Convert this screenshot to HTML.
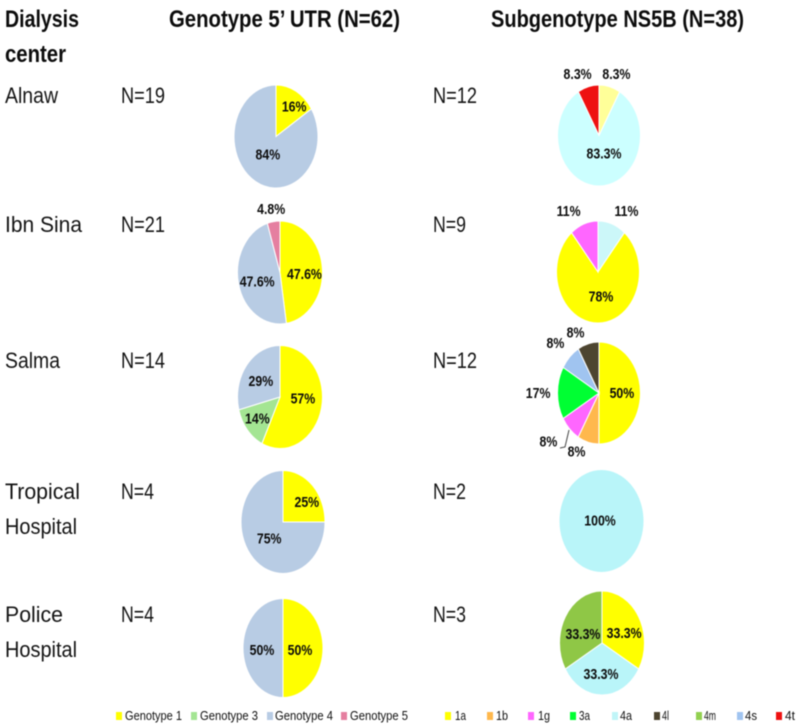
<!DOCTYPE html>
<html lang="en">
<head>
<meta charset="utf-8">
<title>HCV genotype by dialysis center</title>
<style>
html,body{margin:0;padding:0;background:#fff;width:797px;height:725px;overflow:hidden}
svg{display:block;filter:blur(.5px)}
text{font-family:"Liberation Sans",sans-serif;fill:#0c0c0c}
.head{font-size:24px;font-weight:bold}
.row{font-size:22px;fill:#141414}
.leg{font-size:13px;fill:#111}
.lab{font-size:14.5px;font-weight:bold;text-anchor:middle;dominant-baseline:central}
</style>
</head>
<body>
<svg id="chart" width="797" height="725" viewBox="0 0 797 725" xmlns="http://www.w3.org/2000/svg">
  <g>
    <text class="head" x="5" y="27" textLength="74" lengthAdjust="spacingAndGlyphs">Dialysis</text>
    <text class="head" x="5" y="62" textLength="61" lengthAdjust="spacingAndGlyphs">center</text>
    <text class="head" x="169" y="27" textLength="231" lengthAdjust="spacingAndGlyphs">Genotype 5’ UTR (N=62)</text>
    <text class="head" x="491" y="27" textLength="253" lengthAdjust="spacingAndGlyphs">Subgenotype NS5B (N=38)</text>
  </g>
  <g>
    <text class="row" x="5" y="103" textLength="53" lengthAdjust="spacingAndGlyphs">Alnaw</text>
    <text class="row" x="5" y="232" textLength="77" lengthAdjust="spacingAndGlyphs">Ibn Sina</text>
    <text class="row" x="5" y="368" textLength="55" lengthAdjust="spacingAndGlyphs">Salma</text>
    <text class="row" x="5" y="499" textLength="75" lengthAdjust="spacingAndGlyphs">Tropical</text>
    <text class="row" x="5" y="534" textLength="72" lengthAdjust="spacingAndGlyphs">Hospital</text>
    <text class="row" x="5" y="622" textLength="58" lengthAdjust="spacingAndGlyphs">Police</text>
    <text class="row" x="5" y="657" textLength="72" lengthAdjust="spacingAndGlyphs">Hospital</text>
  </g>
  <g>
    <text class="row" x="121" y="103" textLength="44" lengthAdjust="spacingAndGlyphs">N=19</text>
    <text class="row" x="121" y="232" textLength="44" lengthAdjust="spacingAndGlyphs">N=21</text>
    <text class="row" x="121" y="368" textLength="44" lengthAdjust="spacingAndGlyphs">N=14</text>
    <text class="row" x="121" y="499" textLength="33" lengthAdjust="spacingAndGlyphs">N=4</text>
    <text class="row" x="121" y="622" textLength="33" lengthAdjust="spacingAndGlyphs">N=4</text>
    <text class="row" x="433" y="103" textLength="44" lengthAdjust="spacingAndGlyphs">N=12</text>
    <text class="row" x="433" y="232" textLength="33" lengthAdjust="spacingAndGlyphs">N=9</text>
    <text class="row" x="433" y="368" textLength="44" lengthAdjust="spacingAndGlyphs">N=12</text>
    <text class="row" x="433" y="499" textLength="33" lengthAdjust="spacingAndGlyphs">N=2</text>
    <text class="row" x="433" y="622" textLength="33" lengthAdjust="spacingAndGlyphs">N=3</text>
  </g>
  <g id="pies"></g>
  <path d="M569 430 L565 447 L560 448" fill="none" stroke="#444" stroke-width="1"/>
  <g>
    <rect x="116" y="712" width="6" height="8" fill="#ffff00"/>
    <text class="leg" x="125" y="720" textLength="57" lengthAdjust="spacingAndGlyphs">Genotype 1</text>
    <rect x="191" y="712" width="6" height="8" fill="#a4e593"/>
    <text class="leg" x="200" y="720" textLength="58" lengthAdjust="spacingAndGlyphs">Genotype 3</text>
    <rect x="267" y="712" width="6" height="8" fill="#b8cce4"/>
    <text class="leg" x="275" y="720" textLength="58" lengthAdjust="spacingAndGlyphs">Genotype 4</text>
    <rect x="341" y="712" width="6" height="8" fill="#e57fa0"/>
    <text class="leg" x="350" y="720" textLength="58" lengthAdjust="spacingAndGlyphs">Genotype 5</text>
  </g>
  <g>
    <rect x="445" y="712" width="6" height="8" fill="#ffff00"/>
    <text class="leg" x="455" y="720" textLength="11" lengthAdjust="spacingAndGlyphs">1a</text>
    <rect x="487" y="712" width="6" height="8" fill="#ffb84d"/>
    <text class="leg" x="496" y="720" textLength="12" lengthAdjust="spacingAndGlyphs">1b</text>
    <rect x="528" y="712" width="6" height="8" fill="#ff66ff"/>
    <text class="leg" x="538" y="720" textLength="12" lengthAdjust="spacingAndGlyphs">1g</text>
    <rect x="570" y="712" width="6" height="8" fill="#00ff33"/>
    <text class="leg" x="579" y="720" textLength="11" lengthAdjust="spacingAndGlyphs">3a</text>
    <rect x="612" y="712" width="6" height="8" fill="#c0f5f8"/>
    <text class="leg" x="620" y="720" textLength="12" lengthAdjust="spacingAndGlyphs">4a</text>
    <rect x="654" y="712" width="6" height="8" fill="#4d4530"/>
    <text class="leg" x="662" y="720" textLength="7" lengthAdjust="spacingAndGlyphs">4l</text>
    <rect x="696" y="712" width="6" height="8" fill="#92d050"/>
    <text class="leg" x="704" y="720" textLength="12" lengthAdjust="spacingAndGlyphs">4m</text>
    <rect x="737" y="712" width="6" height="8" fill="#a0c4f0"/>
    <text class="leg" x="745" y="720" textLength="12" lengthAdjust="spacingAndGlyphs">4s</text>
    <rect x="776" y="712" width="6" height="8" fill="#ee1111"/>
    <text class="leg" x="785" y="720" textLength="10" lengthAdjust="spacingAndGlyphs">4t</text>
  </g>
</svg>
<script>
// Data: slice shares (percent), clockwise from 12 o'clock
const alnawGenotypeValues = [16, 84];
const alnawGenotypeLabels = ['16%', '84%'];
const ibnSinaGenotypeValues = [47.6, 47.6, 4.8];
const ibnSinaGenotypeLabels = ['47.6%', '47.6%', '4.8%'];
const salmaGenotypeValues = [57, 14, 29];
const salmaGenotypeLabels = ['57%', '14%', '29%'];
const tropicalGenotypeValues = [25, 75];
const tropicalGenotypeLabels = ['25%', '75%'];
const policeGenotypeValues = [50, 50];
const policeGenotypeLabels = ['50%', '50%'];
const alnawSubgenotypeValues = [8.3, 83.3, 8.3];
const alnawSubgenotypeLabels = ['8.3%', '83.3%', '8.3%'];
const ibnSinaSubgenotypeValues = [11, 78, 11];
const ibnSinaSubgenotypeLabels = ['11%', '78%', '11%'];
const salmaSubgenotypeValues = [50, 8.3, 8.3, 16.7, 8.3, 8.3];
const salmaSubgenotypeLabels = ['50%', '8%', '8%', '17%', '8%', '8%'];
const tropicalSubgenotypeValues = [100];
const tropicalSubgenotypeLabels = ['100%'];
const policeSubgenotypeValues = [33.3, 33.3, 33.3];
const policeSubgenotypeLabels = ['33.3%', '33.3%', '33.3%'];

const SVGNS = 'http://www.w3.org/2000/svg';
const pieRoot = document.getElementById('pies');

function angleOf(share, total) {
  return share / total * 2 * Math.PI;
}

function drawPie(pieName, values, labels, colors, cx, cy, rx, ry, nudges) {
  const total = values.reduce(function (a, b) { return a + b; }, 0);
  const group = document.createElementNS(SVGNS, 'g');
  
  
  pieRoot.appendChild(group);
  let running = 0;
  const labelNodes = [];
  values.forEach(function (value, i) {
    const a0 = angleOf(running, total);
    const a1 = angleOf(running + value, total);
    const mid = (a0 + a1) / 2;
    running += value;
    let slice;
    if (value >= total) {
      slice = document.createElementNS(SVGNS, 'ellipse');
      slice.setAttribute('cx', cx);
      slice.setAttribute('cy', cy);
      slice.setAttribute('rx', rx);
      slice.setAttribute('ry', ry);
    } else {
      slice = document.createElementNS(SVGNS, 'path');
      const x0 = cx + rx * Math.sin(a0), y0 = cy - ry * Math.cos(a0);
      const x1 = cx + rx * Math.sin(a1), y1 = cy - ry * Math.cos(a1);
      const large = (a1 - a0) > Math.PI ? 1 : 0;
      slice.setAttribute('d', 'M' + cx + ' ' + cy + ' L' + x0 + ' ' + y0 +
        ' A' + rx + ' ' + ry + ' 0 ' + large + ' 1 ' + x1 + ' ' + y1 + ' Z');
    }
    slice.setAttribute('fill', colors[i]);
    slice.setAttribute('stroke', '#fff');
    slice.setAttribute('stroke-width', '1');
    
    
    group.appendChild(slice);

    const n = nudges[i];
    const lx = cx + rx * 0.6 * Math.sin(mid) + n[0];
    const ly = cy - ry * 0.6 * Math.cos(mid) + n[1];
    const label = document.createElementNS(SVGNS, 'text');
    label.setAttribute('class', 'lab');
    label.setAttribute('transform', 'translate(' + lx + ' ' + ly + ') scale(.85 1)');
    label.textContent = labels[i];
    
    
    labelNodes.push(label);
  });
  labelNodes.forEach(function (l) { group.appendChild(l); });
}

const Y = '#ffff00', GG = '#a4e593', GB = '#b8cce4', GP = '#e57fa0';

drawPie('pie-alnaw-genotype', alnawGenotypeValues, alnawGenotypeLabels, [Y, GB],
  276, 136.5, 42, 51.5, [[6, -3], [4, -9]]);
drawPie('pie-ibn-sina-genotype', ibnSinaGenotypeValues, ibnSinaGenotypeLabels, [Y, GB, GP],
  280, 272.5, 42.5, 51.5, [[-1, 4], [2, 2], [-5, -33]]);
drawPie('pie-salma-genotype', salmaGenotypeValues, salmaGenotypeLabels, [Y, GG, GB],
  280, 397, 42.5, 51.5, [[-2, -5], [-3, 2], [1, 3]]);
drawPie('pie-tropical-genotype', tropicalGenotypeValues, tropicalGenotypeLabels, [Y, GB],
  283, 522, 42, 51.5, [[6, 2], [4, -5]]);
drawPie('pie-police-genotype', policeGenotypeValues, policeGenotypeLabels, [Y, GB],
  283, 648, 40, 49.5, [[-7, 2], [3, 2]]);

drawPie('pie-alnaw-subgenotype', alnawSubgenotypeValues, alnawSubgenotypeLabels, ['#ffff99', '#ccffff', '#ee1111'],
  599, 135.5, 41.5, 50.5, [[11, -32], [5, -12], [-15, -32]]);
drawPie('pie-ibn-sina-subgenotype', ibnSinaSubgenotypeValues, ibnSinaSubgenotypeLabels, ['#ccf7f9', Y, '#ff66ff'],
  598, 272, 41.5, 51, [[20, -32], [3, -6], [-21, -32]]);
drawPie('pie-salma-subgenotype', salmaSubgenotypeValues, salmaSubgenotypeLabels, [Y, '#ffb84d', '#ff66ff', '#00ff33', '#a0c4f0', '#4d4530'],
  599, 393, 41.5, 51, [[-2, 0], [-16, 29], [-33, 27], [-36, 0], [-26, -28], [-17, -31]]);
drawPie('pie-tropical-subgenotype', tropicalSubgenotypeValues, tropicalSubgenotypeLabels, ['#b9f5f9'],
  601.5, 521, 42.5, 51.5, [[-1.5, -31]]);
drawPie('pie-police-subgenotype', policeSubgenotypeValues, policeSubgenotypeLabels, [Y, '#b9f5f9', '#8fc746'],
  602, 643, 42.5, 52, [[0, 6], [-1, 0], [3, 7]]);
</script>
</body>
</html>
